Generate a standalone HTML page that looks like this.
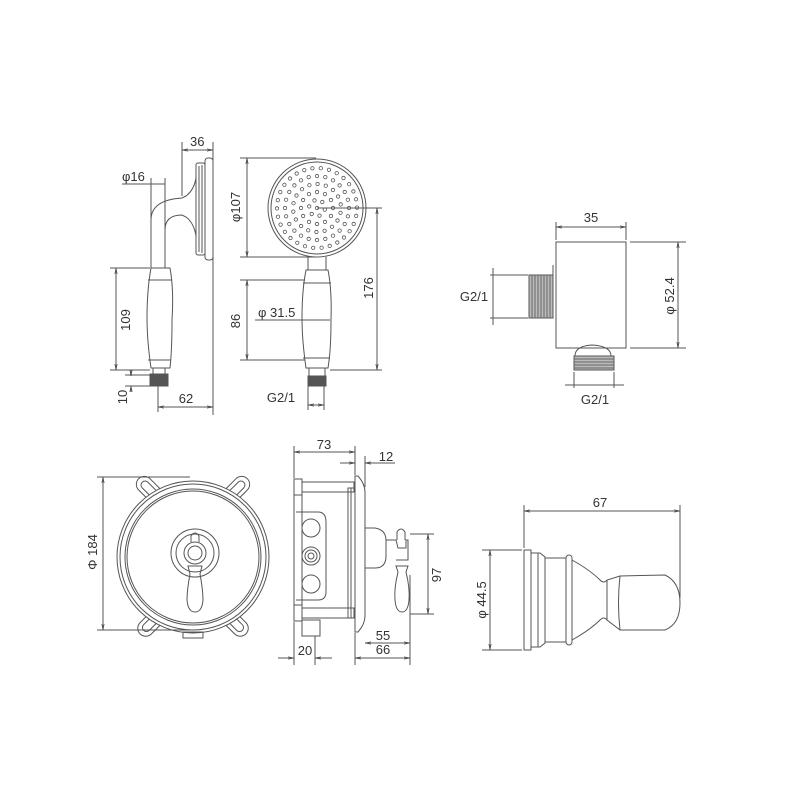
<!DOCTYPE html>
<html><head><meta charset="utf-8"><style>
html,body{margin:0;padding:0;background:#fff;}
svg{display:block}
text{font-family:"Liberation Sans","DejaVu Sans",sans-serif;fill:#333;font-size:13px}
</style></head><body>
<svg id="s" width="800" height="800" viewBox="0 0 800 800" xmlns="http://www.w3.org/2000/svg">
<defs>
<marker id="a" viewBox="0 0 10 10" refX="10" refY="5" markerWidth="6" markerHeight="6" orient="auto-start-reverse"><path d="M0,3 L10,5 L0,7" fill="none" stroke="#444" stroke-width="1"/></marker>
<g id="ear"><rect x="-8" y="-16" width="16" height="30" rx="8"/><rect x="-4" y="-11" width="8" height="20" rx="4"/></g>
</defs>
<g fill="none" stroke="#555" stroke-width="1">
<!-- ===== Hand shower side view ===== -->
<path d="M151,268 L151,220 Q151,200 182,198 L186,196 Q194,190 196,178 L196,170 M165,268 L165,230 Q165,215 182,215 L186,217 Q194,223 196,236 L196,246"/>
<rect x="196" y="163" width="9" height="92" rx="2"/>
<rect x="205" y="158" width="8" height="102" rx="3"/>
<line x1="199" y1="166" x2="199" y2="252"/><line x1="202" y1="165" x2="202" y2="253"/>
<path d="M151,268 L170,268 Q174,290 172,320 Q172,350 170,368 L151,368 Q147,340 147,318 Q147,290 151,268 Z"/>
<path d="M148,280 L172,280 M148,360 L171,360"/>
<rect x="150" y="374" width="18" height="12" fill="#555"/>
<rect x="153" y="368" width="12" height="6"/>
<line x1="182" y1="142" x2="182" y2="196"/><line x1="213" y1="142" x2="213" y2="415"/>
<line x1="182" y1="150" x2="213" y2="150" marker-start="url(#a)" marker-end="url(#a)"/>
<line x1="122" y1="184" x2="165" y2="184"/><line x1="151" y1="178" x2="151" y2="268"/><line x1="165" y1="178" x2="165" y2="268"/>
<line x1="110" y1="268" x2="150" y2="268"/><line x1="110" y1="370" x2="150" y2="370"/>
<line x1="116" y1="268" x2="116" y2="370" marker-start="url(#a)" marker-end="url(#a)"/>
<line x1="125" y1="375" x2="150" y2="375"/><line x1="125" y1="386" x2="150" y2="386"/>
<line x1="131" y1="370" x2="131" y2="376" marker-end="url(#a)"/><line x1="131" y1="392" x2="131" y2="386" marker-end="url(#a)"/>
<line x1="158" y1="386" x2="158" y2="412"/>
<line x1="158" y1="407" x2="213" y2="407" marker-start="url(#a)" marker-end="url(#a)"/>
<!-- ===== Hand shower front ===== -->
<circle cx="317" cy="208" r="49"/><circle cx="317" cy="208" r="46"/>
<g id="dots" stroke-width="0.8"></g>
<path d="M308,257 L308,270 M326,257 L326,270"/>
<path d="M306,270 L328,270 Q332,290 331,320 Q331,350 328,368 L306,368 Q302,340 302,318 Q302,290 306,270 Z"/>
<path d="M303,283 L331,283 M303,358 L330,358"/>
<rect x="309" y="368" width="16" height="8"/>
<rect x="308" y="376" width="18" height="10" fill="#555"/>
<line x1="240" y1="158" x2="316" y2="158"/><line x1="240" y1="257" x2="316" y2="257"/>
<line x1="247" y1="158" x2="247" y2="257" marker-start="url(#a)" marker-end="url(#a)"/>
<line x1="240" y1="280" x2="305" y2="280"/><line x1="240" y1="360" x2="305" y2="360"/>
<line x1="247" y1="280" x2="247" y2="360" marker-start="url(#a)" marker-end="url(#a)"/>
<line x1="255" y1="320" x2="330" y2="320"/>
<line x1="317" y1="208" x2="382" y2="208"/><line x1="330" y1="370" x2="382" y2="370"/>
<line x1="377" y1="208" x2="377" y2="370" marker-start="url(#a)" marker-end="url(#a)"/>
<line x1="308" y1="386" x2="308" y2="410"/><line x1="324" y1="386" x2="324" y2="410"/>
<line x1="308" y1="405" x2="324" y2="405" marker-start="url(#a)" marker-end="url(#a)"/>
<!-- ===== Wall outlet ===== -->
<rect x="556" y="242" width="70" height="106"/>
<line x1="553" y1="265" x2="553" y2="318"/>
<rect x="529" y="275" width="24" height="43" fill="#bbb"/>
<g stroke="#666"><path d="M532,275v43M535,275v43M538,275v43M541,275v43M544,275v43M547,275v43M550,275v43"/></g>
<path d="M575,356 Q575,346 592,345 Q611,346 611,356 Z"/>
<rect x="574" y="356" width="40" height="14" fill="#bbb"/>
<g stroke="#666"><path d="M574,359h40M574,362h40M574,365h40M574,368h40"/></g>
<line x1="556" y1="222" x2="556" y2="240"/><line x1="626" y1="222" x2="626" y2="240"/>
<line x1="556" y1="227" x2="626" y2="227" marker-start="url(#a)" marker-end="url(#a)"/>
<line x1="630" y1="242" x2="686" y2="242"/><line x1="630" y1="348" x2="686" y2="348"/>
<line x1="678" y1="242" x2="678" y2="348" marker-start="url(#a)" marker-end="url(#a)"/>
<line x1="490" y1="275" x2="528" y2="275"/><line x1="490" y1="318" x2="528" y2="318"/>
<line x1="493" y1="268" x2="493" y2="325"/>
<line x1="574" y1="372" x2="574" y2="388"/><line x1="614" y1="372" x2="614" y2="388"/>
<line x1="565" y1="385" x2="624" y2="385"/>
<!-- ===== Valve front ===== -->
<use href="#ear" transform="translate(150,490) rotate(-45)"/>
<use href="#ear" transform="translate(236,490) rotate(45)"/>
<use href="#ear" transform="translate(150,624) rotate(45)"/>
<use href="#ear" transform="translate(236,624) rotate(-45)"/>
<circle cx="193" cy="557" r="76" fill="#fff"/><circle cx="193" cy="557" r="73"/>
<circle cx="193" cy="557" r="68"/><circle cx="193" cy="557" r="66"/>
<rect x="183" y="632" width="20" height="6"/>
<circle cx="195" cy="553" r="24"/><circle cx="195" cy="553" r="19"/>
<circle cx="195" cy="553" r="11"/><circle cx="195" cy="553" r="7"/>
<path d="M191,542 L191,536 Q195,530 199,536 L199,542"/>
<path d="M188,566 L202,566 L200,574 Q203,590 203,600 Q202,612 195,612 Q188,612 187,600 Q187,590 190,574 Z"/>
<line x1="97" y1="477" x2="190" y2="477"/><line x1="97" y1="630" x2="190" y2="630"/>
<line x1="103" y1="477" x2="103" y2="630" marker-start="url(#a)" marker-end="url(#a)"/>
<!-- ===== Valve side ===== -->
<rect x="294" y="479" width="8" height="16"/><rect x="302" y="482" width="52" height="10"/>
<rect x="294" y="605" width="8" height="16"/><rect x="302" y="608" width="52" height="10"/>
<path d="M296,512 L318,512 Q326,512 326,522 L326,592 Q326,600 318,600 L296,600"/>
<line x1="294" y1="495" x2="294" y2="605"/>
<line x1="302" y1="492" x2="302" y2="608"/>
<circle cx="311" cy="528" r="9"/><circle cx="311" cy="584" r="9"/>
<circle cx="311" cy="556" r="9"/><circle cx="311" cy="556" r="6"/><circle cx="311" cy="556" r="3"/>
<rect x="302" y="620" width="18" height="16"/>
<rect x="348" y="488" width="7" height="130"/><line x1="351" y1="488" x2="351" y2="618"/>
<path d="M355,476 L358,476 Q365,484 365,492 L365,616 Q365,624 358,632 L355,632 Z"/>
<path d="M365,528 L375,528 Q386,530 386,540 L386,556 Q386,568 375,568 L365,568"/>
<path d="M386,540 L396,540 L398,548 L406,548 L406,540 L408,540 L408,560 L396,560"/>
<path d="M397,540 L397,532 Q401,526 405,532 L405,540"/>
<path d="M396,566 L408,566 L406,572 Q410,588 409,600 Q408,612 402,612 Q396,612 395,600 Q394,588 398,572 Z"/>
<line x1="294" y1="446" x2="294" y2="478"/><line x1="355" y1="446" x2="355" y2="475"/>
<line x1="294" y1="452" x2="355" y2="452" marker-start="url(#a)" marker-end="url(#a)"/>
<line x1="365" y1="456" x2="365" y2="487"/>
<line x1="340" y1="463" x2="355" y2="463" marker-end="url(#a)"/><line x1="395" y1="463" x2="365" y2="463" marker-end="url(#a)"/>
<line x1="410" y1="534" x2="434" y2="534"/><line x1="410" y1="614" x2="434" y2="614"/>
<line x1="428" y1="534" x2="428" y2="614" marker-start="url(#a)" marker-end="url(#a)"/>
<line x1="410" y1="575" x2="410" y2="665"/><line x1="355" y1="633" x2="355" y2="665"/>
<line x1="365" y1="643" x2="410" y2="643" marker-start="url(#a)" marker-end="url(#a)"/>
<line x1="355" y1="658" x2="410" y2="658" marker-start="url(#a)" marker-end="url(#a)"/>
<line x1="294" y1="622" x2="294" y2="665"/><line x1="315" y1="636" x2="315" y2="665"/>
<line x1="278" y1="658" x2="294" y2="658" marker-end="url(#a)"/><line x1="332" y1="658" x2="315" y2="658" marker-end="url(#a)"/>
<!-- ===== Ball / holder ===== -->
<rect x="524" y="550" width="7" height="100"/>
<path d="M531,553 L540,553 L545,557 L545,643 L540,647 L531,647"/>
<line x1="538" y1="553" x2="538" y2="647"/>
<path d="M545,558 L566,558 M545,642 L566,642"/>
<rect x="566" y="555" width="6" height="90" rx="3"/>
<path d="M572,560 Q590,570 600,580 Q604,584 607,580 L620,576"/>
<path d="M572,640 Q590,630 600,620 Q604,616 607,620 L620,630"/>
<line x1="607" y1="580" x2="607" y2="620"/>
<path d="M620,576 L665,575 Q680,582 680,603 Q680,624 665,630 L620,630 Q617,603 620,576 Z"/>
<line x1="524" y1="505" x2="524" y2="548"/><line x1="680" y1="505" x2="680" y2="598"/>
<line x1="524" y1="511" x2="680" y2="511" marker-start="url(#a)" marker-end="url(#a)"/>
<line x1="482" y1="550" x2="522" y2="550"/><line x1="482" y1="650" x2="522" y2="650"/>
<line x1="490" y1="550" x2="490" y2="650" marker-start="url(#a)" marker-end="url(#a)"/>
</g>
<text x="190" y="146">36</text>
<text x="122" y="181">φ16</text>
<text x="130" y="320" transform="rotate(-90 130 320)" text-anchor="middle">109</text>
<text x="127" y="397" transform="rotate(-90 127 397)" text-anchor="middle">10</text>
<text x="186" y="403" text-anchor="middle">62</text>
<text x="240" y="207" transform="rotate(-90 240 207)" text-anchor="middle">φ107</text>
<text x="240" y="321" transform="rotate(-90 240 321)" text-anchor="middle">86</text>
<text x="258" y="317">φ 31.5</text>
<text x="373" y="288" transform="rotate(-90 373 288)" text-anchor="middle">176</text>
<text x="281" y="402" text-anchor="middle">G2/1</text>
<text x="591" y="222" text-anchor="middle">35</text>
<text x="674" y="296" transform="rotate(-90 674 296)" text-anchor="middle">φ 52.4</text>
<text x="474" y="301" text-anchor="middle">G2/1</text>
<text x="595" y="404" text-anchor="middle">G2/1</text>
<text x="97" y="552" transform="rotate(-90 97 552)" text-anchor="middle">Φ 184</text>
<text x="324" y="449" text-anchor="middle">73</text>
<text x="386" y="461" text-anchor="middle">12</text>
<text x="441" y="575" transform="rotate(-90 441 575)" text-anchor="middle">97</text>
<text x="383" y="640" text-anchor="middle">55</text>
<text x="383" y="654" text-anchor="middle">66</text>
<text x="305" y="655" text-anchor="middle">20</text>
<text x="600" y="507" text-anchor="middle" font-size="15">67</text>
<text x="486" y="600" transform="rotate(-90 486 600)" text-anchor="middle" font-size="15">φ 44.5</text>
</svg>
<script>
var g=document.getElementById('dots'),cx=317,cy=208,h='';
h+='<circle cx="'+cx+'" cy="'+cy+'" r="1.7"/>';
[[8,6],[16,12],[24,18],[32,24],[40,30]].forEach(function(r){for(var i=0;i<r[1];i++){var a=i*2*Math.PI/r[1]+(r[0]%16?0.2:0);h+='<circle cx="'+(cx+r[0]*Math.cos(a)).toFixed(1)+'" cy="'+(cy+r[0]*Math.sin(a)).toFixed(1)+'" r="1.7"/>';}});
g.innerHTML=h;
</script>
</body></html>
